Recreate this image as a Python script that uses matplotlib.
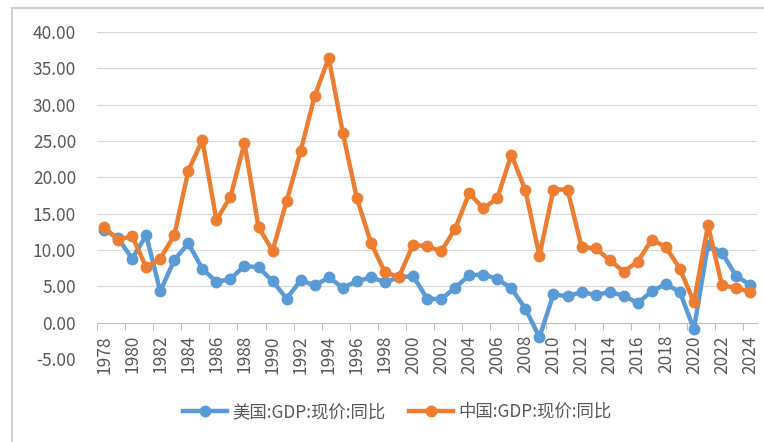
import numpy as np
import matplotlib.pyplot as plt
from matplotlib.lines import Line2D

plt.rcParams['font.family'] = ['Noto Sans CJK SC', 'DejaVu Sans']

# Data: nominal GDP year-on-year growth (%)
years = list(range(1978, 2025))
us_growth = [12.8, 11.6, 8.8, 12.0, 4.3, 8.6, 10.9, 7.4, 5.6, 6.0, 7.8, 7.6, 5.7, 3.3, 5.8, 5.1, 6.2, 4.8, 5.7, 6.2,
             5.6, 6.2, 6.4, 3.3, 3.2, 4.8, 6.5, 6.6, 6.0, 4.7, 1.9, -2.0, 3.9, 3.6, 4.2, 3.8, 4.2, 3.7, 2.7, 4.3,
             5.3, 4.2, -0.9, 10.7, 9.6, 6.4, 5.2]
cn_growth = [13.1, 11.4, 11.9, 7.6, 8.8, 12.0, 20.9, 25.1, 14.1, 17.3, 24.7, 13.1, 9.9, 16.7, 23.6, 31.2, 36.4, 26.1,
             17.1, 11.0, 6.9, 6.3, 10.7, 10.5, 9.8, 12.9, 17.8, 15.7, 17.1, 23.1, 18.2, 9.2, 18.3, 18.3, 10.4, 10.2,
             8.6, 7.0, 8.4, 11.4, 10.4, 7.4, 2.8, 13.4, 5.1, 4.8, 4.2]
series_names = ['美国:GDP:现价:同比', '中国:GDP:现价:同比']

blue = '#5B9BD5'
orange = '#ED7D31'
text_color = '#595959'
grid_color = '#D9D9D9'

fig = plt.figure(figsize=(7.64, 4.42), dpi=100)
ax = fig.add_axes([0.127, 0.188, 0.864, 0.740])

# outer chart frame (only left and top edges visible)
fx, fy = 12 / 764, 1 - 8 / 442
fig.lines.append(Line2D([fx, fx], [0, fy], transform=fig.transFigure, color='#D0D0D0', linewidth=1.5))
fig.lines.append(Line2D([fx, 1], [fy, fy], transform=fig.transFigure, color='#D0D0D0', linewidth=1.5))

for yv in np.arange(-5, 45, 5):
    if yv == 0:
        continue
    ax.axhline(yv, color=grid_color if yv > 0 else '#EBEBEB', linewidth=0.9, zorder=0)

ax.plot(years, us_growth, color=blue, linewidth=3.2, marker='o', markersize=7.5,
        label=series_names[0], zorder=3)
ax.plot(years, cn_growth, color=orange, linewidth=3.2, marker='o', markersize=7.5,
        label=series_names[1], zorder=4)

ax.set_xlim(1977.5, 2024.5)
ax.set_ylim(-5, 40)
ax.set_yticks(np.arange(-5, 45, 5))
ax.set_yticklabels([f'{v:.2f}' for v in np.arange(-5, 45, 5)])

# x axis crosses at 0, labels every 2 years, ticks between categories
ax.spines['bottom'].set_position(('data', 0))
ax.spines['bottom'].set_color('#BFBFBF')
for s in ['left', 'right', 'top']:
    ax.spines[s].set_visible(False)
ax.set_xticks(np.arange(1977.5, 2025, 2))
ax.set_xticklabels([])
ax.tick_params(axis='x', which='major', length=5, color='#BFBFBF', direction='out')
ax.set_xticks(np.arange(1978, 2025, 2), minor=True)
ax.set_xticklabels([str(y) for y in range(1978, 2025, 2)], minor=True, rotation=90)
ax.tick_params(axis='x', which='minor', length=0, labelsize=12.5, labelcolor=text_color, pad=9)
ax.tick_params(axis='y', length=0, labelsize=12.5, labelcolor=text_color, pad=15)

leg = fig.legend(loc='center', bbox_to_anchor=(0.52, 0.068), ncol=2, frameon=False,
                 fontsize=12.5, handlelength=2.5, columnspacing=1.4, handletextpad=0.3)
for t in leg.get_texts():
    t.set_color(text_color)

fig.savefig('out.png', dpi=100)
